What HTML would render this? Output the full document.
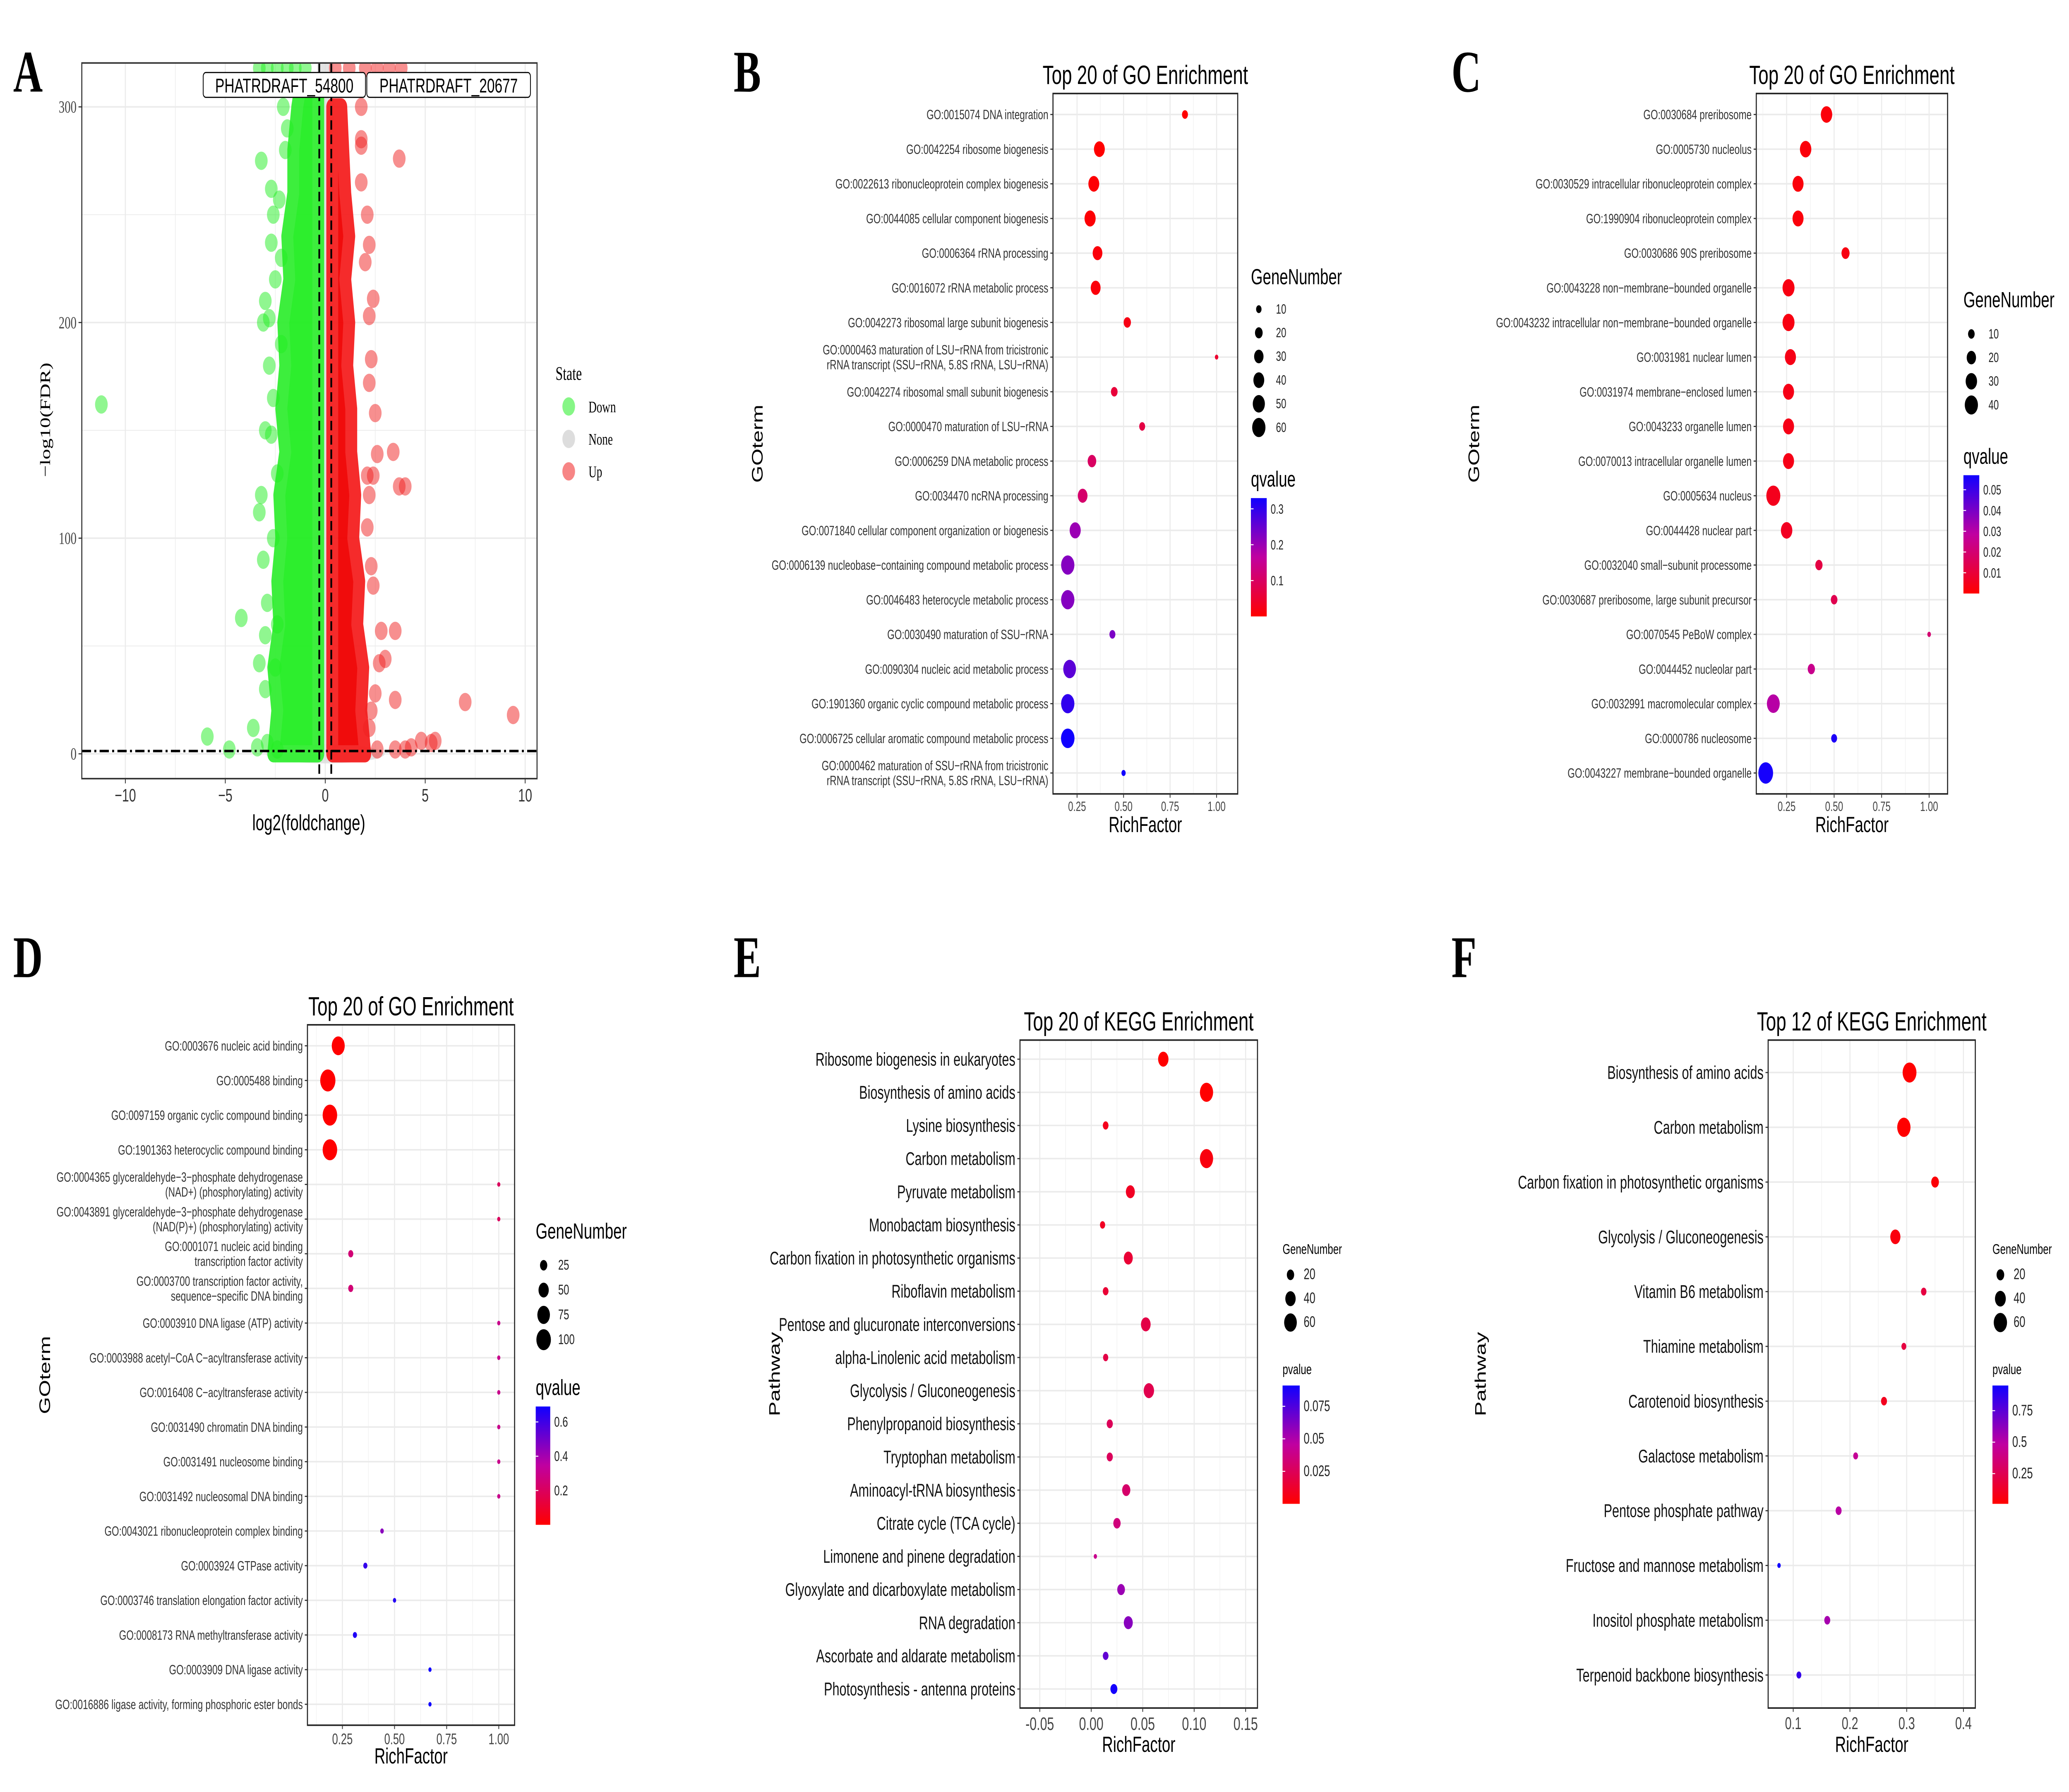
<!DOCTYPE html>
<html><head><meta charset="utf-8"><style>
html,body{margin:0;padding:0;background:#fff;width:100vw;height:100vh;overflow:hidden;}
#fig{display:block;width:100vw;height:100vh;position:absolute;left:0;top:0;}
text{font-family:"Liberation Sans",sans-serif;}
.serif{font-family:"Liberation Serif",serif;}
</style></head><body>
<svg id="fig" xmlns="http://www.w3.org/2000/svg" viewBox="0 0 1568 939" preserveAspectRatio="none">
<defs>
<linearGradient id="qgrad" x1="0" y1="1" x2="0" y2="0">
<stop offset="0" stop-color="#ff0000"/><stop offset="0.5" stop-color="#c000a0"/><stop offset="1" stop-color="#1000ff"/>
</linearGradient>
<clipPath id="clipA"><rect x="62" y="33" width="345" height="375"/></clipPath>
</defs>
<rect x="0" y="0" width="1568" height="939" fill="#fff"/>
<g id="root"></g>
</svg>
<script>
// ---------- Panel A data (volcano) ----------
const aDownX=[-11.2,-4.2,-5.9,-4.8,-3.4,-3.6,-3.0,-3.3,-3.0,-2.9,-3.1,-3.3,-3.2,-2.7,-3.0,-2.6,-2.8,-3.1,-2.8,-3.0,-2.5,-2.7,-2.6,-2.3,-3.2,-2.7,-2.0,-1.9,-2.1,-2.4,-2.6,-2.4,-2.2,-2.5,-2.9,-2.4,-2.2,-1.8,-3.3,-2.9,-2.4,-1.9,-1.5,-1.0];
const aDownY=[162,63,8,2,3,12,30,42,55,70,90,112,120,148,150,165,180,200,202,210,220,237,250,257,275,262,280,290,300,60,100,130,190,40,5,2,230,310,318,318,318,318,318,318];
const aUpX=[3.7,2.5,3.4,3.7,4.0,2.4,2.1,2.6,2.2,2.3,2.2,2.4,2.2,2.1,2.0,1.8,1.8,1.8,2.2,2.1,2.3,2.4,2.8,3.5,3.0,2.7,3.5,2.5,2.3,7.0,9.4,5.5,5.3,4.8,4.0,4.3,3.5,2.6,2.2,1.8,1.5,0.5,1.2,2.0,2.6,3.2,3.8];
const aUpY=[276,158,140,124,124,129,129,139,172,183,203,211,236,250,228,282,285,265,120,105,87,78,57,57,44,42,25,28,20,24,18,6,5,6,2,3,2,2,12,300,310,318,318,318,318,318,318];
const aDownCoreX=[-0.35,-2.6,-2.4,-2.6,-2.3,-2.4,-2.2,-2.3,-2.0,-2.2,-2.0,-2.1,-1.8,-1.9,-1.6,-1.6,-1.4,-1.2,-0.35];
const aDownCoreY=[0,0,20,40,60,80,100,120,140,160,180,200,220,240,260,280,300,312,312];
const aUpCoreX=[0.35,2.0,1.8,1.9,1.6,1.7,1.4,1.5,1.3,1.3,1.1,1.2,1.0,1.2,1.0,0.9,0.8,0.35];
const aUpCoreY=[0,0,20,40,60,80,100,120,140,160,180,200,220,240,260,280,300,300];
const aXTicks=[-10,-5,0,5,10];
const aYTicks=[0,100,200,300];
const aLegend=["Down","None","Up"];

// ---------- Panel B data ----------
const bTerms=["GO:0015074 DNA integration","GO:0042254 ribosome biogenesis","GO:0022613 ribonucleoprotein complex biogenesis","GO:0044085 cellular component biogenesis","GO:0006364 rRNA processing","GO:0016072 rRNA metabolic process","GO:0042273 ribosomal large subunit biogenesis","GO:0000463 maturation of LSU−rRNA from tricistronic\nrRNA transcript (SSU−rRNA, 5.8S rRNA, LSU−rRNA)","GO:0042274 ribosomal small subunit biogenesis","GO:0000470 maturation of LSU−rRNA","GO:0006259 DNA metabolic process","GO:0034470 ncRNA processing","GO:0071840 cellular component organization or biogenesis","GO:0006139 nucleobase−containing compound metabolic process","GO:0046483 heterocycle metabolic process","GO:0030490 maturation of SSU−rRNA","GO:0090304 nucleic acid metabolic process","GO:1901360 organic cyclic compound metabolic process","GO:0006725 cellular aromatic compound metabolic process","GO:0000462 maturation of SSU−rRNA from tricistronic\nrRNA transcript (SSU−rRNA, 5.8S rRNA, LSU−rRNA)"];
const bRich=[0.83,0.37,0.34,0.32,0.36,0.35,0.52,1.0,0.45,0.60,0.33,0.28,0.24,0.20,0.20,0.44,0.21,0.20,0.20,0.50];
const bGenes=[12,40,40,42,32,33,18,4,15,12,25,32,42,60,60,12,55,60,62,6];
const bQ=[0.0,0.0,0.005,0.005,0.01,0.01,0.02,0.05,0.06,0.07,0.1,0.11,0.2,0.22,0.22,0.23,0.26,0.3,0.33,0.33];
const bXTicks=[0.25,0.5,0.75,1.0];
const bSizeLegend=[10,20,30,40,50,60];
const bColorTicks=[0.1,0.2,0.3];

// ---------- Panel C data ----------
const cTerms=["GO:0030684 preribosome","GO:0005730 nucleolus","GO:0030529 intracellular ribonucleoprotein complex","GO:1990904 ribonucleoprotein complex","GO:0030686 90S preribosome","GO:0043228 non−membrane−bounded organelle","GO:0043232 intracellular non−membrane−bounded organelle","GO:0031981 nuclear lumen","GO:0031974 membrane−enclosed lumen","GO:0043233 organelle lumen","GO:0070013 intracellular organelle lumen","GO:0005634 nucleus","GO:0044428 nuclear part","GO:0032040 small−subunit processome","GO:0030687 preribosome, large subunit precursor","GO:0070545 PeBoW complex","GO:0044452 nucleolar part","GO:0032991 macromolecular complex","GO:0000786 nucleosome","GO:0043227 membrane−bounded organelle"];
const cRich=[0.46,0.35,0.31,0.31,0.56,0.26,0.26,0.27,0.26,0.26,0.26,0.18,0.25,0.42,0.50,1.0,0.38,0.18,0.50,0.14];
const cGenes=[30,30,28,28,15,33,33,28,28,28,28,45,30,12,10,3,12,38,8,50];
const cQ=[0.002,0.002,0.002,0.002,0.003,0.003,0.003,0.004,0.004,0.004,0.004,0.005,0.006,0.012,0.014,0.02,0.025,0.03,0.055,0.056];
const cXTicks=[0.25,0.5,0.75,1.0];
const cSizeLegend=[10,20,30,40];
const cColorTicks=[0.01,0.02,0.03,0.04,0.05];

// ---------- Panel D data ----------
const dTerms=["GO:0003676 nucleic acid binding","GO:0005488 binding","GO:0097159 organic cyclic compound binding","GO:1901363 heterocyclic compound binding","GO:0004365 glyceraldehyde−3−phosphate dehydrogenase\n(NAD+) (phosphorylating) activity","GO:0043891 glyceraldehyde−3−phosphate dehydrogenase\n(NAD(P)+) (phosphorylating) activity","GO:0001071 nucleic acid binding\ntranscription factor activity","GO:0003700 transcription factor activity,\nsequence−specific DNA binding","GO:0003910 DNA ligase (ATP) activity","GO:0003988 acetyl−CoA C−acyltransferase activity","GO:0016408 C−acyltransferase activity","GO:0031490 chromatin DNA binding","GO:0031491 nucleosome binding","GO:0031492 nucleosomal DNA binding","GO:0043021 ribonucleoprotein complex binding","GO:0003924 GTPase activity","GO:0003746 translation elongation factor activity","GO:0008173 RNA methyltransferase activity","GO:0003909 DNA ligase activity","GO:0016886 ligase activity, forming phosphoric ester bonds"];
const dRich=[0.23,0.18,0.19,0.19,1.0,1.0,0.29,0.29,1.0,1.0,1.0,1.0,1.0,1.0,0.44,0.36,0.50,0.31,0.67,0.67];
const dGenes=[80,110,100,100,3,3,12,12,2,2,2,2,2,2,6,8,5,8,3,3];
const dQ=[0.0,0.0,0.0,0.0,0.2,0.2,0.25,0.25,0.3,0.3,0.3,0.3,0.3,0.3,0.45,0.62,0.65,0.66,0.7,0.7];
const dXTicks=[0.25,0.5,0.75,1.0];
const dSizeLegend=[25,50,75,100];
const dColorTicks=[0.2,0.4,0.6];

// ---------- Panel E data ----------
const eTerms=["Ribosome biogenesis in eukaryotes","Biosynthesis of amino acids","Lysine biosynthesis","Carbon metabolism","Pyruvate metabolism","Monobactam biosynthesis","Carbon fixation in photosynthetic organisms","Riboflavin metabolism","Pentose and glucuronate interconversions","alpha-Linolenic acid metabolism","Glycolysis / Gluconeogenesis","Phenylpropanoid biosynthesis","Tryptophan metabolism","Aminoacyl-tRNA biosynthesis","Citrate cycle (TCA cycle)","Limonene and pinene degradation","Glyoxylate and dicarboxylate metabolism","RNA degradation","Ascorbate and aldarate metabolism","Photosynthesis - antenna proteins"];
const eRich=[0.070,0.112,0.014,0.112,0.038,0.011,0.036,0.014,0.053,0.014,0.056,0.018,0.018,0.034,0.025,0.004,0.029,0.036,0.014,0.022];
const eGenes=[40,65,12,65,30,10,30,12,35,10,40,14,14,25,20,4,22,30,12,18];
const eP=[0.0,0.0,0.008,0.004,0.01,0.01,0.015,0.015,0.02,0.02,0.022,0.025,0.026,0.03,0.035,0.04,0.055,0.06,0.07,0.09];
const eXTicks=[-0.05,0.0,0.05,0.10,0.15];
const eSizeLegend=[20,40,60];
const eColorTicks=[0.025,0.05,0.075];

// ---------- Panel F data ----------
const fTerms=["Biosynthesis of amino acids","Carbon metabolism","Carbon fixation in photosynthetic organisms","Glycolysis / Gluconeogenesis","Vitamin B6 metabolism","Thiamine metabolism","Carotenoid biosynthesis","Galactose metabolism","Pentose phosphate pathway","Fructose and mannose metabolism","Inositol phosphate metabolism","Terpenoid backbone biosynthesis"];
const fRich=[0.305,0.295,0.35,0.28,0.33,0.295,0.26,0.21,0.18,0.075,0.16,0.11];
const fGenes=[65,60,20,35,10,8,12,8,12,4,12,8];
const fP=[0.0,0.0,0.03,0.05,0.2,0.2,0.1,0.45,0.5,0.95,0.55,0.85];
const fXTicks=[0.1,0.2,0.3,0.4];
const fSizeLegend=[20,40,60];
const fColorTicks=[0.25,0.5,0.75];

const NS='http://www.w3.org/2000/svg';
const svg=document.getElementById('root');
function el(tag,attrs,parent){const e=document.createElementNS(NS,tag);for(const k in attrs)e.setAttribute(k,attrs[k]);(parent||svg).appendChild(e);return e;}
function txt(s,attrs,parent){const t=el('text',attrs,parent);t.textContent=s;return t;}
function lerp(a,b,t){return Math.round(a+(b-a)*t);}
function col(t){t=Math.max(0,Math.min(1,t));const s=[[255,0,0],[192,0,160],[16,0,255]];let a,b,u;if(t<0.5){a=s[0];b=s[1];u=t/0.5;}else{a=s[1];b=s[2];u=(t-0.5)/0.5;}return 'rgb('+lerp(a[0],b[0],u)+','+lerp(a[1],b[1],u)+','+lerp(a[2],b[2],u)+')';}

[["A",10,48],["B",556,48],["C",1100,48],["D",10,512],["E",556,512],["F",1100,512]].forEach(p=>{
  const t=txt(p[0],{x:p[1],y:p[2],'font-size':31,'font-weight':'bold','class':'serif'});
  
  
});

// ---------- Panel A ----------
(function(){
  const g=el('g',{});
  
  
  const X0=246.5,SX=15.15,Y0=395,SY=1.13;
  const xA=v=>X0+SX*v, yA=v=>Y0-SY*v;
  const L=62,T=33,R=407,B=408;
  for(let v=-12.5;v<=10;v+=2.5){const x=xA(v);if(x<L||x>R)continue;const major=(v%5===0);const ln=el('line',{x1:x,x2:x,y1:T,y2:B,stroke:'#ebebeb','stroke-width':major?0.8:0.4},g);}
  for(let v=0;v<=320;v+=50){const y=yA(v);const ln=el('line',{x1:L,x2:R,y1:y,y2:y,stroke:'#ebebeb','stroke-width':(v%100===0)?0.8:0.4},g);}
  const pg=el('g',{'clip-path':'url(#clipA)'},g);
  
  
  const gb=el('rect',{x:xA(-0.4),y:T,width:xA(0.4)-xA(-0.4),height:yA(0)-T+4,fill:'#dcdcdc',opacity:0.8},pg);
  
  
  const gb2=el('ellipse',{cx:xA(0),cy:yA(0),rx:45,ry:5,fill:'#dddddd',opacity:0.8},pg);
  
  
  const dPts=aDownCoreX.map((v,i)=>xA(v)+','+yA(aDownCoreY[i])).join(' ');
  const dc=el('polygon',{points:dPts,fill:'#22ee22',stroke:'#33ee33','stroke-width':9,'stroke-linejoin':'round',opacity:0.95},pg);
  
  
  const uPts=aUpCoreX.map((v,i)=>xA(v)+','+yA(aUpCoreY[i])).join(' ');
  const uc=el('polygon',{points:uPts,fill:'#f00000',stroke:'#f52020','stroke-width':9,'stroke-linejoin':'round',opacity:0.95},pg);
  
  
  aDownX.forEach((v,i)=>{const c=el('circle',{cx:xA(v),cy:yA(aDownY[i]),r:4.8,fill:'#22ee22',opacity:0.5},pg);});
  aUpX.forEach((v,i)=>{const c=el('circle',{cx:xA(v),cy:yA(aUpY[i]),r:4.8,fill:'#f02020',opacity:0.5},pg);});
  [-0.3,0.3].forEach(v=>{const ln=el('line',{x1:xA(v),x2:xA(v),y1:T,y2:B,stroke:'#000','stroke-width':1.3,'stroke-dasharray':'5,2.5'},g);});
  const hl=el('line',{x1:L,x2:R,y1:yA(1.3),y2:yA(1.3),stroke:'#000','stroke-width':1.3,'stroke-dasharray':'7,2.5,1.5,2.5'},g);
  
  
  const fr=el('rect',{x:L,y:T,width:R-L,height:B-T,fill:'none',stroke:'#333','stroke-width':0.8},g);
  
  
  [["PHATRDRAFT_54800",154,277],["PHATRDRAFT_20677",278,402]].forEach(a=>{
    const r=el('rect',{x:a[1],y:38,width:a[2]-a[1],height:13,rx:2,fill:'#fff',stroke:'#000','stroke-width':0.6},g);
    
    
    const t=txt(a[0],{x:(a[1]+a[2])/2,y:48.5,'font-size':10.5,'text-anchor':'middle'},g);
    
    
  });
  aXTicks.forEach(v=>{const tk=el('line',{x1:xA(v),x2:xA(v),y1:B,y2:B+2.5,stroke:'#333','stroke-width':0.6},g);
    const t=txt(v<0?'−'+Math.abs(v):String(v),{x:xA(v),y:B+12,'font-size':9.5,'text-anchor':'middle',fill:'#333'},g);});
  aYTicks.forEach(v=>{const tk=el('line',{x1:L-2.5,x2:L,y1:yA(v),y2:yA(v),stroke:'#333','stroke-width':0.6},g);
    const t=txt(String(v),{x:L-4,y:yA(v)+3,'font-size':9,'text-anchor':'end',fill:'#444','class':'serif'},g);});
  const xt=txt('log2(foldchange)',{x:234,y:435,'font-size':11.5,'text-anchor':'middle'},g);
  
  
  const yt=txt('−log10(FDR)',{x:0,y:0,'font-size':11,'text-anchor':'middle','class':'serif',transform:'translate(38,220) rotate(-90)'},g);
  
  
  const lt=txt('State',{x:421,y:199,'font-size':10,'class':'serif'},g);
  
  
  const lc=['#22ee22','#dddddd','#f02020'];
  aLegend.forEach((s,i)=>{const y=213+i*17;const c=el('circle',{cx:431,cy:y,r:4.8,fill:lc[i],opacity:i===1?1:0.55},g);
    const t=txt(s,{x:446,y:y+3,'font-size':8.5,'class':'serif'},g);});
})();

function dotPanel(id,cfg,terms,rich,genes,q,xTicks,sizeLeg,colTicks){
  const g=el('g',{});
  
  
  const xS=v=>cfg.x0+cfg.sx*v;
  const yS=i=>cfg.rowTop+i*cfg.step;
  const rS=n=>Math.max(1.2,cfg.rk*Math.sqrt(n));
  const cS=v=>col((v-cfg.cmin)/(cfg.cmax-cfg.cmin));
  const [L,T,R,B]=cfg.box;
  for(let k=0;k<xTicks.length;k++){
    const x=xS(xTicks[k]);
    const ln=el('line',{x1:x,x2:x,y1:T,y2:B,stroke:'#ebebeb','stroke-width':0.8},g);
    const d=xTicks[1]-xTicks[0];
    [x-cfg.sx*d/2,x+cfg.sx*d/2].forEach(xm=>{if(xm>L&&xm<R){const m=el('line',{x1:xm,x2:xm,y1:T,y2:B,stroke:'#f2f2f2','stroke-width':0.4},g);}});
  }
  terms.forEach((s,i)=>{const y=yS(i);const ln=el('line',{x1:L,x2:R,y1:y,y2:y,stroke:'#ebebeb','stroke-width':0.8},g);});
  terms.forEach((s,i)=>{
    const c=el('circle',{cx:xS(rich[i]),cy:yS(i),r:rS(genes[i]),fill:cS(q[i])},g);
    
    
  });
  const fr=el('rect',{x:L,y:T,width:R-L,height:B-T,fill:'none',stroke:'#222','stroke-width':0.8},g);
  
  
  terms.forEach((s,i)=>{
    const y=yS(i);
    const tk=el('line',{x1:L-2,x2:L,y1:y,y2:y,stroke:'#333','stroke-width':0.6},g);
    const lines=s.split('\n');
    const t=txt('',{x:L-3.5,y:y+cfg.fs*0.35-(lines.length-1)*cfg.fs*0.55,'font-size':cfg.fs,'text-anchor':'end',fill:cfg.lc},g);
    
    
    lines.forEach((ln,j)=>{const ts=el('tspan',{x:L-3.5,dy:j===0?0:cfg.fs*1.1},t);ts.textContent=ln;});
  });
  xTicks.forEach(v=>{const x=xS(v);const tk=el('line',{x1:x,x2:x,y1:B,y2:B+2,stroke:'#333','stroke-width':0.6},g);
    const t=txt(v.toFixed(cfg.dec),{x:x,y:B+cfg.xfs+2,'font-size':cfg.xfs,'text-anchor':'middle',fill:'#444'},g);});
  const ti=txt(cfg.title,{x:(L+R)/2,y:T-5,'font-size':13.8,'text-anchor':'middle'},g);
  
  
  const xt=txt('RichFactor',{x:(L+R)/2,y:cfg.xtY,'font-size':11.5,'text-anchor':'middle'},g);
  
  
  const yt=txt(cfg.ytitle,{x:0,y:0,'font-size':11.5,'text-anchor':'middle',transform:'translate('+cfg.ytX+','+((T+B)/2)+') rotate(-90)'},g);
  
  
  const lx=cfg.legX;
  const st=txt('GeneNumber',{x:lx,y:cfg.gnY,'font-size':cfg.ltfs},g);
  
  
  sizeLeg.forEach((n,i)=>{const y=cfg.gnY+cfg.gnStart+i*cfg.gnStep;
    const c=el('circle',{cx:lx+6,cy:y,r:rS(n),fill:'#000'},g);
    const t=txt(String(n),{x:lx+cfg.gnTx,y:y+2.3,'font-size':cfg.lfs,fill:'#222'},g);});
  const ct=txt(cfg.ctitle,{x:lx,y:cfg.cY,'font-size':cfg.ltfs},g);
  
  
  const bt=cfg.cY+6,bh=62,bw=cfg.cbw;
  const bar=el('rect',{x:lx,y:bt,width:bw,height:bh,fill:'url(#qgrad)'},g);
  
  
  const cyS=v=>bt+bh-(v-cfg.cmin)/(cfg.cmax-cfg.cmin)*bh;
  colTicks.forEach(v=>{const y=cyS(v);
    const l1=el('line',{x1:lx,x2:lx+2,y1:y,y2:y,stroke:'#fff','stroke-width':0.5},g);
    const t=txt(String(v),{x:lx+bw+3,y:y+2.5,'font-size':cfg.lfs,fill:'#222'},g);});
}

dotPanel('go-enrichment-b',{x0:781,sx:141,rowTop:60,step:18.16,box:[798,49,938,416],rk:0.65,cmin:0,cmax:0.33,fs:7.1,lc:'#333',xfs:7,dec:2,title:'Top 20 of GO Enrichment',xtY:436,ytitle:'GOterm',ytX:578,legX:948,gnY:149,gnStart:13,gnStep:12.4,gnTx:19,ltfs:11.5,lfs:7,ctitle:'qvalue',cY:255,cbw:12},bTerms,bRich,bGenes,bQ,bXTicks,bSizeLegend,bColorTicks);

dotPanel('go-enrichment-c',{x0:1318,sx:144,rowTop:60,step:18.16,box:[1331,49,1476,416],rk:0.79,cmin:0,cmax:0.057,fs:7.1,lc:'#333',xfs:7,dec:2,title:'Top 20 of GO Enrichment',xtY:436,ytitle:'GOterm',ytX:1121,legX:1488,gnY:161,gnStart:14,gnStep:12.4,gnTx:19,ltfs:11.5,lfs:7,ctitle:'qvalue',cY:243,cbw:12},cTerms,cRich,cGenes,cQ,cXTicks,cSizeLegend,cColorTicks);

dotPanel('go-enrichment-d',{x0:220,sx:158,rowTop:548,step:18.16,box:[233,537,390,904],rk:0.55,cmin:0,cmax:0.69,fs:7.1,lc:'#333',xfs:8,dec:2,title:'Top 20 of GO Enrichment',xtY:924,ytitle:'GOterm',ytX:38,legX:406,gnY:649,gnStart:14,gnStep:13,gnTx:17,ltfs:11.5,lfs:7.5,ctitle:'qvalue',cY:731,cbw:11},dTerms,dRich,dGenes,dQ,dXTicks,dSizeLegend,dColorTicks);

dotPanel('kegg-enrichment-e',{x0:827,sx:780,rowTop:555,step:17.37,box:[773,545,953,895],rk:0.62,cmin:0,cmax:0.091,fs:9.6,lc:'#111',xfs:9.5,dec:2,title:'Top 20 of KEGG Enrichment',xtY:918,ytitle:'Pathway',ytX:591,legX:972,gnY:657,gnStart:11,gnStep:12.5,gnTx:16,ltfs:7.5,lfs:8,ctitle:'pvalue',cY:720,cbw:13},eTerms,eRich,eGenes,eP,eXTicks,eSizeLegend,eColorTicks);

dotPanel('kegg-enrichment-f',{x0:1316,sx:430,rowTop:562,step:28.7,box:[1340,545,1497,895],rk:0.65,cmin:0.01,cmax:0.95,fs:9.6,lc:'#111',xfs:9,dec:1,title:'Top 12 of KEGG Enrichment',xtY:918,ytitle:'Pathway',ytX:1126,legX:1510,gnY:657,gnStart:11,gnStep:12.5,gnTx:16,ltfs:7.5,lfs:8,ctitle:'pvalue',cY:720,cbw:12},fTerms,fRich,fGenes,fP,fXTicks,fSizeLegend,fColorTicks);
</script>
</body></html>
